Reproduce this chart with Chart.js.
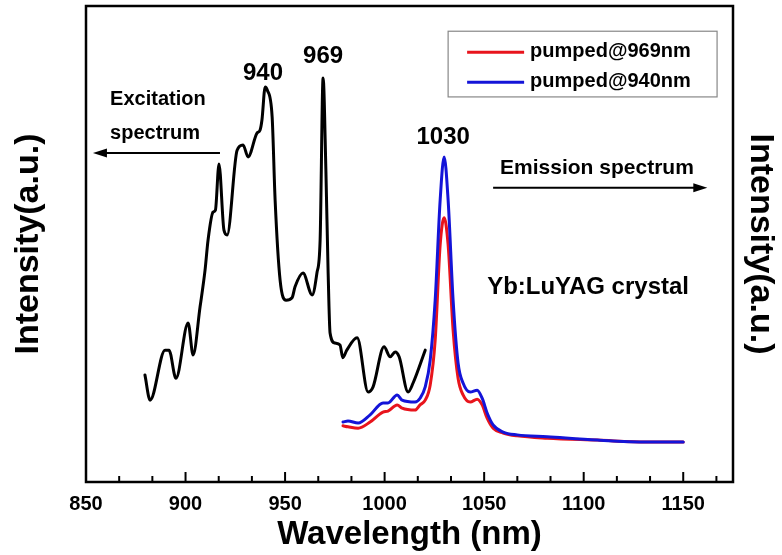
<!DOCTYPE html>
<html>
<head>
<meta charset="utf-8">
<script src="https://cdn.jsdelivr.net/npm/chart.js@4.4.1/dist/chart.umd.min.js"></script>
<style>
  html, body { margin: 0; padding: 0; background: #fff; }
  canvas { display: block; }
</style>
</head>
<body>
<canvas id="chart" width="782" height="555"></canvas>
<script>
// excitation spectrum (black)
const exWl  = [879.6, 882.2, 889.7, 891.7, 895.2, 901.3, 903.8, 907.3, 909.8, 911.3, 913.8, 915, 916.8, 919.3, 920.9, 925.9, 928.9, 931.4, 935.9, 937.4, 938.4, 940, 941, 943.5, 945, 947.5, 950.5, 953.5, 955, 959, 963.6, 966, 967.6, 969.1, 970.5, 971.6, 972.6, 975, 977.6, 979, 981, 986.2, 991.7, 994.2, 999.7, 1002.8, 1005.3, 1007.3, 1011.8, 1014.3, 1020.4];
const exInt = [22.5, 17.2, 27.7, 27.7, 21.8, 33.4, 26.7, 36.8, 44.5, 50.8, 56.7, 57.1, 66.8, 52.9, 51.9, 69.7, 70.8, 68.3, 73.3, 73.9, 76.1, 83.0, 82.4, 76.7, 59.2, 42.4, 38.2, 38.7, 41.0, 43.9, 39.3, 43.9, 50.8, 84.9, 65.5, 44.5, 31.3, 29.2, 28.8, 26.1, 27.7, 30.3, 18.9, 20.0, 28.4, 26.3, 27.3, 26.3, 18.9, 20.8, 27.7];

// emission spectra
const emWl  = [979.1, 981.6, 986.7, 992.7, 999.2, 1001.7, 1006.3, 1008.8, 1015.3, 1017.8, 1020.4, 1022.9, 1025.4, 1027.9, 1029.9, 1031.9, 1034.4, 1036.9, 1039.4, 1043, 1046.5, 1049, 1051.5, 1054.5, 1059.5, 1066.6, 1081.7, 1106.8, 1131.9, 1150];
const em969 = [11.8, 11.6, 11.3, 12.6, 14.7, 14.9, 16.2, 15.5, 15.1, 16.2, 17.2, 20.4, 29.8, 49.8, 55.5, 49.8, 31.9, 21.8, 18.3, 16.8, 17.4, 16.2, 13.4, 11.3, 10.3, 9.7, 9.2, 8.8, 8.4, 8.4];
const em940 = [12.6, 12.8, 12.4, 14.1, 16.6, 16.6, 18.3, 17.2, 16.8, 17.6, 20.0, 25.6, 38.2, 59.2, 68.3, 59.2, 38.2, 25.0, 20.8, 18.9, 19.3, 17.6, 14.5, 12.0, 10.5, 9.9, 9.5, 8.8, 8.4, 8.4];

const seriesNames = ['pumped@969nm', 'pumped@940nm'];
const xTicks = [850, 900, 950, 1000, 1050, 1100, 1150];

// peak labels: [text, wavelength, intensity]
const peakLabels = [['940', 938.9, 85.9], ['969', 969.1, 89.5], ['1030', 1029.4, 72.5]];

function pts(xs, ys) { return xs.map((x, i) => ({ x: x, y: ys[i] })); }

const FONT = '"Liberation Sans", Arial, sans-serif';

const decor = {
  id: 'decor',
  afterDatasetsDraw(chart) {
    const ctx = chart.ctx;
    const a = chart.chartArea;
    const xs = chart.scales.x, ys = chart.scales.y;
    const X = v => xs.getPixelForValue(v), Y = v => ys.getPixelForValue(v);
    ctx.save();

    // frame
    ctx.strokeStyle = '#000';
    ctx.lineWidth = 2.5;
    ctx.strokeRect(a.left, a.top, a.right - a.left, a.bottom - a.top);

    // inward tick marks on the bottom axis, minor every 50/3 nm
    ctx.lineWidth = 2;
    for (let k = 1; ; k++) {
      const v = 850 + k * 50 / 3;
      if (v >= 1175 - 0.1) break;
      const px = X(v);
      const len = (k % 3 === 0) ? 10 : 6;
      ctx.beginPath();
      ctx.moveTo(px, a.bottom);
      ctx.lineTo(px, a.bottom - len);
      ctx.stroke();
    }

    ctx.fillStyle = '#000';
    ctx.textBaseline = 'middle';

    // peak labels
    ctx.font = 'bold 24px ' + FONT;
    ctx.textAlign = 'center';
    peakLabels.forEach(p => ctx.fillText(p[0], X(p[1]), Y(p[2])));

    // excitation note with arrow to the left
    ctx.font = 'bold 20px ' + FONT;
    ctx.textAlign = 'left';
    ctx.fillText('Excitation', X(862.1), Y(80.3));
    ctx.fillText('spectrum', X(862.1), Y(73.3));
    arrow(ctx, X(917.3), X(853.5), Y(69.1));

    // emission note with arrow to the right
    ctx.font = 'bold 21px ' + FONT;
    ctx.fillText('Emission spectrum', X(1058), Y(66));
    arrow(ctx, X(1054.5), X(1162.1), Y(61.8));

    ctx.font = 'bold 24px ' + FONT;
    ctx.fillText('Yb:LuYAG crystal', X(1051.5), Y(40.8));

    // legend box
    const lx = X(1031.9), ly = Y(94.7), lw = X(1167) - lx, lh = Y(80.9) - ly;
    ctx.lineWidth = 1.2;
    ctx.strokeStyle = '#888';
    ctx.strokeRect(lx, ly, lw, lh);
    const ds = chart.data.datasets;
    [0, 1].forEach(i => {
      const yy = ly + 21 + i * 30;
      ctx.strokeStyle = ds[i].borderColor;
      ctx.lineWidth = 3;
      ctx.beginPath();
      ctx.moveTo(lx + 19, yy);
      ctx.lineTo(lx + 76, yy);
      ctx.stroke();
      ctx.fillStyle = '#000';
      ctx.font = 'bold 20px ' + FONT;
      ctx.textAlign = 'left';
      ctx.fillText(ds[i].label, lx + 82, yy - 1);
    });
    ctx.restore();
  }
};

function arrow(ctx, x0, x1, y) {
  const dir = x1 > x0 ? 1 : -1;
  ctx.strokeStyle = '#000';
  ctx.fillStyle = '#000';
  ctx.lineWidth = 2;
  ctx.beginPath();
  ctx.moveTo(x0, y);
  ctx.lineTo(x1 - dir * 10, y);
  ctx.stroke();
  ctx.beginPath();
  ctx.moveTo(x1, y);
  ctx.lineTo(x1 - dir * 14, y - 4.5);
  ctx.lineTo(x1 - dir * 14, y + 4.5);
  ctx.closePath();
  ctx.fill();
}

const ctx = document.getElementById('chart').getContext('2d');
const myChart = new Chart(ctx, {
  type: 'line',
  data: {
    datasets: [
      { label: seriesNames[0], data: pts(emWl, em969), borderColor: '#e8141c', borderWidth: 3, order: 1 },
      { label: seriesNames[1], data: pts(emWl, em940), borderColor: '#1414d8', borderWidth: 3, order: 0 },
      { label: 'excitation', data: pts(exWl, exInt), borderColor: '#000', borderWidth: 3, order: 2 }
    ]
  },
  options: {
    responsive: false,
    animation: false,
    devicePixelRatio: 1,
    layout: { padding: { top: 6, left: 0, right: 0, bottom: 0 } },
    elements: { point: { radius: 0 }, line: { cubicInterpolationMode: 'monotone', borderJoinStyle: 'round', borderCapStyle: 'round', fill: false } },
    plugins: { legend: { display: false }, tooltip: { enabled: false } },
    scales: {
      x: {
        type: 'linear',
        min: 850, max: 1175,
        afterBuildTicks: s => { s.ticks = xTicks.map(v => ({ value: v })); },
        afterFit: s => { s.height = 73; },
        grid: { display: false },
        border: { display: false },
        ticks: { color: '#000', padding: 2, maxRotation: 0, autoSkip: false, callback: v => String(v), font: { family: FONT, size: 20, weight: 'bold' } },
        title: { display: true, text: 'Wavelength (nm)', color: '#000', padding: { top: 0, bottom: 0 }, font: { family: FONT, size: 33, weight: 'bold' } }
      },
      y: {
        position: 'left',
        min: 0, max: 100,
        afterFit: s => { s.width = 86; },
        grid: { display: false },
        border: { display: false },
        ticks: { display: false },
        title: { display: true, text: 'Intensity(a.u.)', color: '#000', padding: { top: 8, bottom: 0 }, font: { family: FONT, size: 34, weight: 'bold' } }
      },
      y2: {
        position: 'right',
        min: 0, max: 100,
        afterFit: s => { s.width = 49; },
        grid: { display: false },
        border: { display: false },
        ticks: { display: false },
        title: { display: true, text: 'Intensity(a.u.)', color: '#000', padding: { top: 1, bottom: 0 }, font: { family: FONT, size: 34, weight: 'bold' } }
      }
    }
  },
  plugins: [decor]
});
</script>
</body>
</html>
